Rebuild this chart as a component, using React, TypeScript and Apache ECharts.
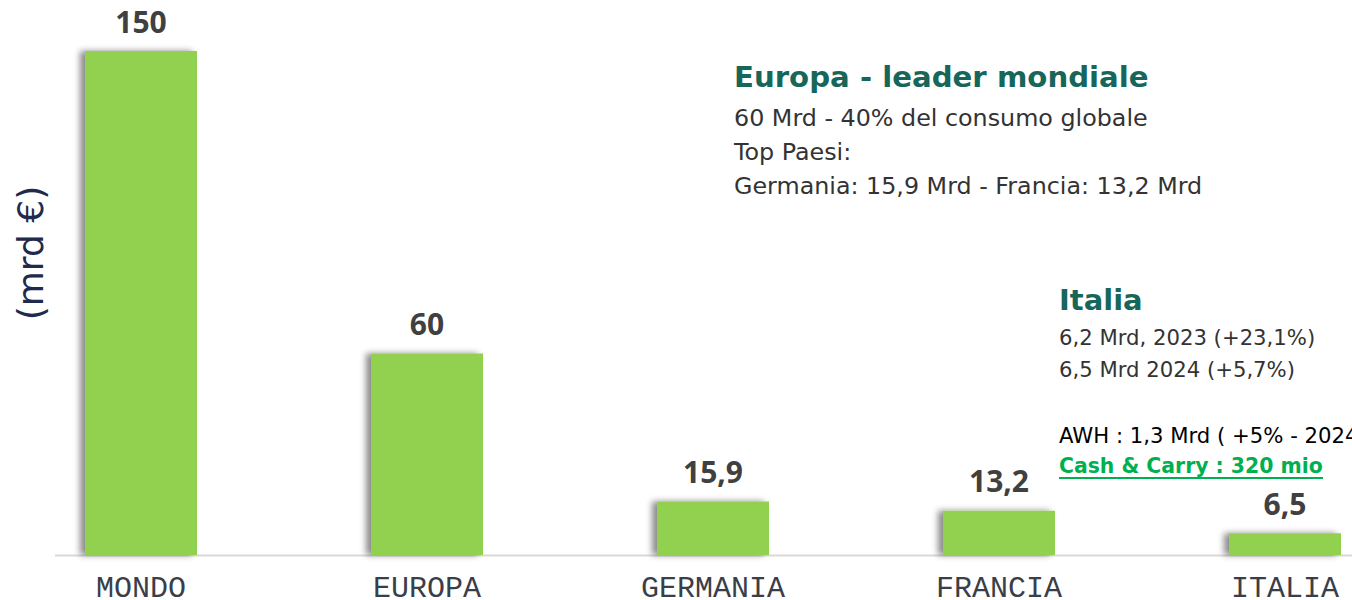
import React, { useEffect, useRef } from "react";
import * as echarts from "echarts";

const categories = ["MONDO", "EUROPA", "GERMANIA", "FRANCIA", "ITALIA"];
const values = [150, 60, 15.9, 13.2, 6.5];
const yAxisTitle = "(mrd €)";
const europaTitle = "Europa - leader mondiale";
const europaLines = [
  "60 Mrd - 40% del consumo globale",
  "Top Paesi:",
  "Germania: 15,9 Mrd - Francia: 13,2 Mrd",
];
const italiaTitle = "Italia";
const italiaLines = ["6,2 Mrd, 2023 (+23,1%)", "6,5 Mrd 2024 (+5,7%)"];
const awhLine = "AWH : 1,3 Mrd ( +5% - 2024)";
const cashLine = "Cash & Carry : 320 mio";

const TEXT_FONT = "'DejaVu Sans', 'Noto Sans', sans-serif";

export default function App() {
  const ref = useRef<HTMLDivElement>(null);
  useEffect(() => {
    document.body.style.margin = "0";
    if (!ref.current) return;
    const chart = echarts.init(ref.current, undefined, { renderer: "svg" });
    const option: any = {
      animation: false,
      backgroundColor: "#ffffff",
      grid: {
        left: -2,
        width: 1430,
        top: 51,
        bottom: 45,
        containLabel: false,
        outerBoundsMode: "none",
      },
      xAxis: {
        type: "category",
        data: categories,
        axisLine: { show: false },
        axisTick: { show: false },
        axisLabel: {
          margin: 19,
          fontFamily: "'Courier New', 'Liberation Mono', monospace",
          fontSize: 30,
          color: "#3a3e48",
        },
      },
      yAxis: {
        type: "value",
        min: 0,
        max: 150,
        show: false,
        splitLine: { show: false },
      },
      series: [
        {
          type: "bar",
          data: values,
          barWidth: 112,
          itemStyle: {
            color: "#92d050",
            shadowColor: "rgba(0,0,0,0.45)",
            shadowBlur: 6,
            shadowOffsetX: -5,
            shadowOffsetY: 0,
          },
          label: {
            show: true,
            position: "top",
            distance: 15,
            fontFamily: "'Open Sans', 'Noto Sans', sans-serif",
            fontWeight: "bold",
            fontSize: 30,
            color: "#404040",
            formatter: (p: any) => String(p.value).replace(".", ","),
          },
        },
      ],
      graphic: [
        {
          type: "line",
          shape: { x1: 55, y1: 555.5, x2: 1352, y2: 555.5 },
          style: { stroke: "#d9d9d9", lineWidth: 2 },
          z: 0,
        },
        {
          type: "text",
          x: 30,
          y: 253,
          rotation: Math.PI / 2,
          style: {
            text: yAxisTitle,
            font: `36px ${TEXT_FONT}`,
            fill: "#1f2a4d",
            align: "center",
            verticalAlign: "middle",
          },
        },
        {
          type: "text",
          x: 734,
          y: 77,
          style: {
            text: europaTitle,
            font: `bold 29.2px ${TEXT_FONT}`,
            fill: "#17665a",
            verticalAlign: "middle",
          },
        },
        ...europaLines.map((t, i) => ({
          type: "text",
          x: 734,
          y: 118 + i * 34,
          style: {
            text: t,
            font: `23.8px ${TEXT_FONT}`,
            fill: "#333333",
            verticalAlign: "middle",
          },
        })),
        {
          type: "text",
          x: 1059,
          y: 300,
          style: {
            text: italiaTitle,
            font: `bold 29px ${TEXT_FONT}`,
            fill: "#17665a",
            verticalAlign: "middle",
          },
        },
        ...italiaLines.map((t, i) => ({
          type: "text",
          x: 1059,
          y: 337 + i * 32,
          style: {
            text: t,
            font: `21.2px ${TEXT_FONT}`,
            fill: "#333333",
            verticalAlign: "middle",
          },
        })),
        {
          type: "text",
          x: 1059,
          y: 435,
          style: {
            text: awhLine,
            font: `21.2px ${TEXT_FONT}`,
            fill: "#000000",
            verticalAlign: "middle",
          },
        },
        {
          type: "text",
          x: 1059,
          y: 466,
          style: {
            text: cashLine,
            font: `bold 20.4px ${TEXT_FONT}`,
            fill: "#00b050",
            verticalAlign: "middle",
          },
        },
        {
          type: "line",
          shape: { x1: 1059, y1: 478, x2: 1323, y2: 478 },
          style: { stroke: "#00b050", lineWidth: 2 },
        },
      ],
    };
    chart.setOption(option);
    return () => chart.dispose();
  }, []);
  return <div ref={ref} style={{ width: 1352, height: 600 }} />;
}
